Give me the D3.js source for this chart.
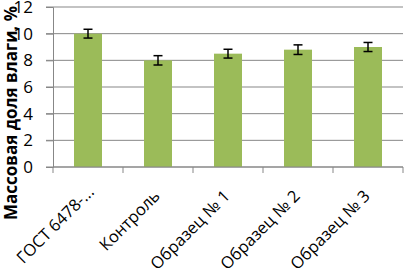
<!DOCTYPE html>
<html>
<head>
<meta charset="utf-8">
<script src="https://cdn.jsdelivr.net/npm/d3@7"></script>
<style>
	body { margin: 0; background: #fff; }
	svg { display: block; font-family: "Open Sans", sans-serif; }
</style>
</head>
<body>
<div id="chart"></div>
<script>
/* bar chart with error bars */

const categories = ["ГОСТ 6478-...", "Контроль", "Образец № 1", "Образец № 2", "Образец № 3"]
const values = [10.0, 8.0, 8.5, 8.8, 9.0]
const errors = [0.33, 0.35, 0.33, 0.36, 0.34]
const yTicks = [0, 2, 4, 6, 8, 10, 12]
const yTitle = "Массовая доля влаги, %"

const width = 404, height = 275
const margin = {top: 7, right: 1, bottom: 108, left: 53}

const svg = d3.select("#chart").append("svg")
	.attr("width", width)
	.attr("height", height)

const x = d3.scaleBand()
	.domain(categories)
	.range([margin.left, width - margin.right])
	.paddingInner(0.6)
	.paddingOuter(0.3)

const y = d3.scaleLinear()
	.domain([0, 12])
	.range([height - margin.bottom, margin.top])

const gridColor = "#878787"

// horizontal grid
svg.append("g")
	.selectAll("line")
	.data(yTicks)
	.join("line")
	.attr("x1", margin.left - 7)
	.attr("x2", width - margin.right)
	.attr("y1", d => y(d))
	.attr("y2", d => y(d))
	.attr("stroke", gridColor)
	.attr("stroke-width", 1)

// y axis
const yAxis = svg.append("g")
	.attr("transform", `translate(${margin.left},0)`)
	.call(d3.axisLeft(y).tickValues(yTicks).tickSize(7).tickPadding(13))
yAxis.selectAll("line, path").attr("stroke", gridColor)
yAxis.selectAll("text")
	.attr("fill", "#000")
	.style("font-size", "17px")
	.style("font-family", "Open Sans")

// bars
svg.append("g")
	.selectAll("rect")
	.data(values)
	.join("rect")
	.attr("x", (d, i) => x(categories[i]))
	.attr("width", x.bandwidth())
	.attr("y", d => y(d))
	.attr("height", d => y(0) - y(d))
	.attr("fill", "#9bbb59")

// error bars
const eb = svg.append("g")
	.attr("stroke", "#000")
	.attr("stroke-width", 1.5)
values.forEach((v, i) => {
	const cx = x(categories[i]) + x.bandwidth() / 2
	eb.append("line")
		.attr("x1", cx).attr("x2", cx)
		.attr("y1", y(v + errors[i])).attr("y2", y(v - errors[i]))
	eb.append("line")
		.attr("x1", cx - 4.5).attr("x2", cx + 4.5)
		.attr("y1", y(v + errors[i])).attr("y2", y(v + errors[i]))
	eb.append("line")
		.attr("x1", cx - 4.5).attr("x2", cx + 4.5)
		.attr("y1", y(v - errors[i])).attr("y2", y(v - errors[i]))
})

// x axis
const xEdges = d3.range(categories.length + 1).map(i => margin.left + i * x.step())
const xAxis = svg.append("g")
xAxis.append("line")
	.attr("x1", margin.left).attr("x2", width - margin.right)
	.attr("y1", y(0)).attr("y2", y(0))
	.attr("stroke", gridColor)
xAxis.selectAll(".tick")
	.data(xEdges)
	.join("line")
	.attr("class", "tick")
	.attr("x1", d => Math.min(d, width - 1)).attr("x2", d => Math.min(d, width - 1))
	.attr("y1", y(0)).attr("y2", y(0) + 6)
	.attr("stroke", gridColor)

xAxis.selectAll("text")
	.data(categories)
	.join("text")
	.attr("transform", (d, i) => {
		// the cut first label sits a little higher in the original
		const dx = i == 0 ? 7 : 3, dy = i == 0 ? 26 : 30
		return `translate(${x(d) + x.bandwidth() / 2 + dx},${y(0) + dy}) rotate(-45)`
	})
	.attr("text-anchor", "end")
	.style("font-size", "16.5px")
	.attr("fill", "#000")
	.text(d => d)

// y title
svg.append("text")
	.attr("transform", `translate(17,${113}) rotate(-90)`)
	.attr("text-anchor", "middle")
	.style("font-size", "17px")
	.style("font-weight", "bold")
	.attr("fill", "#000")
	.text(yTitle)
</script>
</body>
</html>
